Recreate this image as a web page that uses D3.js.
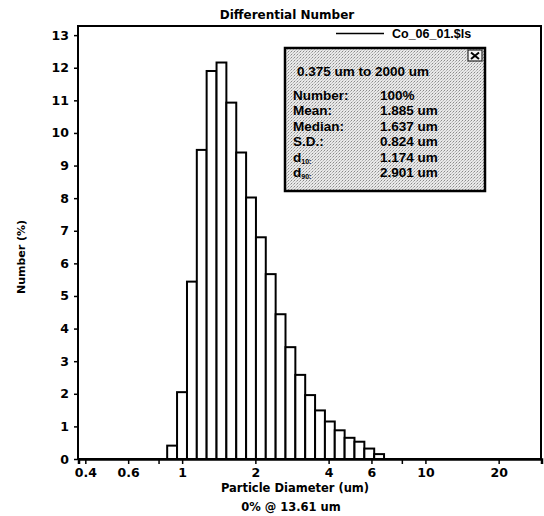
<!DOCTYPE html>
<html>
<head>
<meta charset="utf-8">
<script src="https://cdn.jsdelivr.net/npm/d3@7"></script>
<style>
  body { margin: 0; background: #fff; }
  svg { display: block; }
</style>
</head>
<body>
<svg id="chart" width="544" height="516"></svg>
<script>
// channel edges (um) of the bins that hold data, and % number in each bin
const binEdges = [0.868, 0.953, 1.047, 1.149, 1.261, 1.385, 1.520, 1.669, 1.832, 2.011, 2.207, 2.423,
                  2.660, 2.920, 3.205, 3.519, 3.863, 4.240, 4.655, 5.110, 5.610, 6.158, 6.760];
const numberPct = [0.41, 2.05, 5.44, 9.48, 11.9, 12.16, 10.93, 9.4, 8.02, 6.8, 5.67, 4.44,
                   3.43, 2.58, 1.96, 1.49, 1.15, 0.88, 0.65, 0.53, 0.32, 0.15];

const xTicks = [0.4, 0.6, 0.8, 1, 2, 4, 6, 8, 10, 20];
const xTickLabels = ["0.4", "0.6", "", "1", "2", "4", "6", "", "10", "20"];
const yTicks = [0, 1, 2, 3, 4, 5, 6, 7, 8, 9, 10, 11, 12, 13];

const statNames = ["Number:", "Mean:", "Median:", "S.D.:", "d10", "d90"];
const statValues = ["100%", "1.885 um", "1.637 um", "0.824 um", "1.174 um", "2.901 um"];

const svg = d3.select("#chart");
const plotL = 78, plotR = 541, plotT = 26, plotB = 459;

const x = d3.scaleLog().domain([0.375, 30]).range([plotL + 0.5, plotR + 0.5]);
const y = d3.scaleLinear().domain([0, 13.28]).range([plotB, plotT]);

const bins = numberPct.map((v, i) => ({ x0: binEdges[i], x1: binEdges[i + 1], v: v }));

// dotted fill for the stats box
const defs = svg.append("defs");
const pat = defs.append("pattern")
    .attr("id", "dots")
    .attr("width", 3).attr("height", 3)
    .attr("patternUnits", "userSpaceOnUse");
pat.append("rect").attr("width", 3).attr("height", 3).attr("fill", "#e9e9e9");
pat.append("rect").attr("width", 1).attr("height", 1).attr("fill", "#8a8a8a");
pat.append("rect").attr("x", 2).attr("y", 1).attr("width", 1).attr("height", 1).attr("fill", "#b2b2b2");
pat.append("rect").attr("x", 1).attr("y", 2).attr("width", 1).attr("height", 1).attr("fill", "#c8c8c8");

// bars
svg.append("g")
    .selectAll("rect")
    .data(bins)
    .enter().append("rect")
    .attr("x", d => x(d.x0))
    .attr("y", d => y(d.v))
    .attr("width", d => x(d.x1) - x(d.x0))
    .attr("height", d => y(0) - y(d.v))
    .attr("fill", "#fff")
    .attr("stroke", "#000")
    .attr("stroke-width", 2);

// frame
svg.append("rect")
    .attr("x", plotL).attr("y", plotT)
    .attr("width", plotR - plotL).attr("height", plotB - plotT)
    .attr("fill", "none")
    .attr("stroke", "#000")
    .attr("stroke-width", 2);

const tickFont = "'DejaVu Sans', sans-serif";

// y axis
const yAxis = svg.append("g")
    .attr("transform", `translate(${plotL},0)`)
    .call(d3.axisLeft(y).tickValues(yTicks).tickSize(4).tickPadding(5).tickFormat(d3.format("d")));
yAxis.select(".domain").remove();
yAxis.selectAll("line").attr("stroke-width", 1.5);
yAxis.selectAll("text")
    .attr("font-family", tickFont)
    .attr("font-weight", "bold")
    .attr("font-size", 12.5)
    .attr("fill", "#000");

// x axis
const xAxis = svg.append("g")
    .attr("transform", `translate(0,${plotB})`)
    .call(d3.axisBottom(x).tickValues(xTicks).tickSize(5).tickPadding(4)
        .tickFormat((d, i) => xTickLabels[i]));
xAxis.select(".domain").attr("stroke-width", 2.5);
xAxis.selectAll("line").attr("stroke-width", 1.5);
xAxis.selectAll("text")
    .attr("font-family", tickFont)
    .attr("font-weight", "bold")
    .attr("font-size", 12.5)
    .attr("fill", "#000");

// titles
svg.append("text")
    .attr("x", 287).attr("y", 19)
    .attr("text-anchor", "middle")
    .attr("font-family", tickFont)
    .attr("font-weight", "bold")
    .attr("font-size", 12)
    .text("Differential Number");

svg.append("text")
    .attr("x", 295).attr("y", 492)
    .attr("text-anchor", "middle")
    .attr("font-family", tickFont)
    .attr("font-weight", "bold")
    .attr("font-size", 11.5)
    .text("Particle Diameter (um)");

svg.append("text")
    .attr("x", 291).attr("y", 511)
    .attr("text-anchor", "middle")
    .attr("font-family", tickFont)
    .attr("font-weight", "bold")
    .attr("font-size", 11.5)
    .text("0% @ 13.61 um");

svg.append("text")
    .attr("transform", "translate(25,257) rotate(-90)")
    .attr("text-anchor", "middle")
    .attr("font-family", tickFont)
    .attr("font-weight", "bold")
    .attr("font-size", 11)
    .text("Number (%)");

// legend
svg.append("line")
    .attr("x1", 336).attr("x2", 384)
    .attr("y1", 33.5).attr("y2", 33.5)
    .attr("stroke", "#000").attr("stroke-width", 1.5);
svg.append("text")
    .attr("x", 392).attr("y", 38)
    .attr("font-family", "'Liberation Sans', Arial, sans-serif")
    .attr("font-weight", "bold")
    .attr("font-size", 12.5)
    .text("Co_06_01.$ls");

// stats box
const box = svg.append("g").attr("transform", "translate(285,48)");
box.append("rect")
    .attr("width", 200).attr("height", 143)
    .attr("fill", "url(#dots)")
    .attr("stroke", "#000")
    .attr("stroke-width", 2.5);
box.append("rect")
    .attr("x", 183).attr("y", 2).attr("width", 14).attr("height", 11)
    .attr("fill", "#f4f4f4")
    .attr("stroke", "#000").attr("stroke-width", 1);
box.append("path")
    .attr("d", "M186,4.5 L194,11 M194,4.5 L186,11")
    .attr("stroke", "#000").attr("stroke-width", 2);

const boxFont = "'Liberation Sans', Arial, sans-serif";
box.append("text")
    .attr("x", 12).attr("y", 28)
    .attr("font-family", boxFont)
    .attr("font-weight", "bold")
    .attr("font-size", 13.5)
    .text("0.375 um to 2000 um");

statNames.forEach((name, i) => {
    const yy = 52 + i * 15.4;
    const t = box.append("text")
        .attr("x", 8).attr("y", yy)
        .attr("font-family", boxFont)
        .attr("font-weight", "bold")
        .attr("font-size", 13.5);
    if (name.startsWith("d")) {
        t.append("tspan").text("d");
        t.append("tspan").attr("font-size", 7).attr("dy", 2).text(name.slice(1) + ":");
    } else {
        t.text(name);
    }
    box.append("text")
        .attr("x", 95).attr("y", yy)
        .attr("font-family", boxFont)
        .attr("font-weight", "bold")
        .attr("font-size", 13.5)
        .text(statValues[i]);
});
</script>
</body>
</html>
